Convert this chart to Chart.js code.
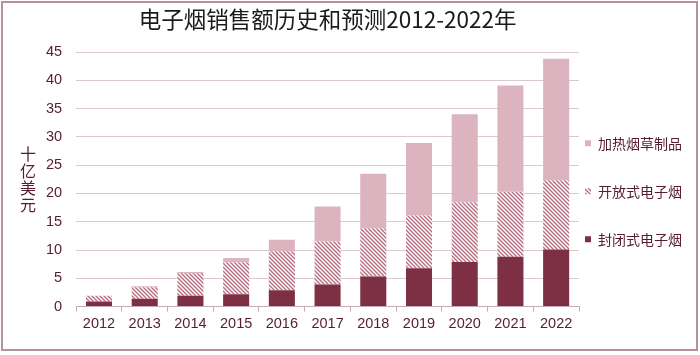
<!DOCTYPE html>
<html>
<head>
<meta charset="utf-8">
<script src="https://cdn.jsdelivr.net/npm/chart.js@4/dist/chart.umd.min.js"></script>
<style>
  html, body { margin: 0; padding: 0; background: #ffffff; }
  #wrap { width: 700px; height: 355px; }
</style>
</head>
<body>
<div id="wrap"><canvas id="c" width="700" height="355"></canvas></div>
<script>
// ---- data ----
const years = ['2012','2013','2014','2015','2016','2017','2018','2019','2020','2021','2022'];
const closedVapes = [0.9, 1.4, 1.9, 2.2, 2.9, 3.9, 5.3, 6.8, 7.9, 8.8, 10.1];
const openVapes   = [1.0, 2.0, 4.0, 5.6, 6.9, 7.6, 8.5, 9.3, 10.5, 11.5, 12.2];
const heatedTobacco = [0, 0.2, 0.2, 0.8, 2.0, 6.2, 9.7, 12.8, 15.6, 18.8, 21.5];
const seriesNames = ['封闭式电子烟', '开放式电子烟', '加热烟草制品'];
const yTicks = [0, 5, 10, 15, 20, 25, 30, 35, 40, 45];
const titleText = '电子烟销售额历史和预测2012-2022年';
const yTitleChars = ['十', '亿', '美', '元'];

// ---- styles ----
const darkColor = '#7d2f43';
const pinkColor = '#dcb4bf';
const labelColor = '#561c30';
const gridColor = '#dcc9d0';

function makeHatch() {
  const s = 4;
  const c = document.createElement('canvas');
  c.width = s; c.height = s;
  const x = c.getContext('2d');
  x.fillStyle = '#ffffff';
  x.fillRect(0, 0, s, s);
  x.strokeStyle = '#b86c82';
  x.lineWidth = 1.4;
  x.beginPath();
  x.moveTo(-1, -1); x.lineTo(s + 1, s + 1);
  x.moveTo(-1, s - 1); x.lineTo(1, s + 1);
  x.moveTo(s - 1, -1); x.lineTo(s + 1, 1);
  x.stroke();
  return x.createPattern(c, 'repeat');
}
const hatch = makeHatch();

const framePlugin = {
  id: 'frame',
  beforeDraw(chart) {
    const ctx = chart.ctx;
    ctx.save();
    ctx.fillStyle = '#ffffff';
    ctx.fillRect(0, 0, chart.width, chart.height);
    ctx.restore();
  },
  afterDraw(chart) {
    const ctx = chart.ctx;
    ctx.save();
    ctx.strokeStyle = '#b8919f';
    ctx.lineWidth = 2;
    ctx.strokeRect(2, 2, 695, 348);
    // stacked vertical y-axis title
    ctx.fillStyle = labelColor;
    ctx.font = '16px "Noto Sans CJK SC"';
    ctx.textAlign = 'center';
    ctx.textBaseline = 'middle';
    const area = chart.chartArea;
    const mid = (area.top + area.bottom) / 2;
    const step = 17;
    const start = mid - step * (yTitleChars.length - 1) / 2;
    yTitleChars.forEach((ch, i) => ctx.fillText(ch, 28, start + i * step));
    ctx.restore();
  }
};

const tickFont = { family: '"Liberation Sans", Arial, sans-serif', size: 14.5 };

new Chart(document.getElementById('c'), {
  type: 'bar',
  data: {
    labels: years,
    datasets: [
      { label: seriesNames[0], data: closedVapes, backgroundColor: darkColor, borderWidth: 0 },
      { label: seriesNames[1], data: openVapes, backgroundColor: hatch, borderWidth: 0 },
      { label: seriesNames[2], data: heatedTobacco, backgroundColor: pinkColor, borderWidth: 0 }
    ]
  },
  options: {
    responsive: false,
    animation: false,
    devicePixelRatio: 1,
    layout: { padding: { left: 32, right: 8, top: 0, bottom: 18 } },
    datasets: { bar: { categoryPercentage: 1, barPercentage: 0.57 } },
    plugins: {
      title: {
        display: true,
        text: titleText,
        fullSize: false,
        color: '#1a1a1a',
        font: { family: '"Noto Sans CJK SC", sans-serif', size: 22.5, weight: 'normal', lineHeight: 1.2 },
        padding: { top: 6, bottom: 19 }
      },
      legend: {
        display: true,
        position: 'right',
        fullSize: false,
        reverse: true,
        title: { display: true, text: ' ', font: { size: 10, lineHeight: 1 }, padding: 21 },
        labels: {
          boxWidth: 6,
          boxHeight: 6,
          padding: 6,
          color: labelColor,
          font: { family: '"Noto Sans CJK SC", sans-serif', size: 14, lineHeight: '42px' },
          generateLabels(chart) {
            const items = Chart.defaults.plugins.legend.labels.generateLabels(chart);
            items.forEach(it => { it.text = [it.text]; it.lineWidth = 0; });
            return items;
          }
        }
      },
      tooltip: { enabled: false }
    },
    scales: {
      x: {
        stacked: true,
        grid: { offset: true, drawOnChartArea: false, drawTicks: true, tickLength: 5, color: '#c5acb6' },
        border: { display: true, color: '#c5acb6', width: 1 },
        ticks: { color: labelColor, font: tickFont, padding: 4, maxRotation: 0 }
      },
      y: {
        stacked: true,
        min: 0,
        max: 45,
        afterBuildTicks(axis) { axis.ticks = yTicks.map(v => ({ value: v })); },
        grid: { color: gridColor, drawTicks: false, lineWidth: 1 },
        border: { display: false },
        ticks: { color: labelColor, font: tickFont, padding: 14 }
      }
    }
  },
  plugins: [framePlugin]
});
</script>
</body>
</html>
